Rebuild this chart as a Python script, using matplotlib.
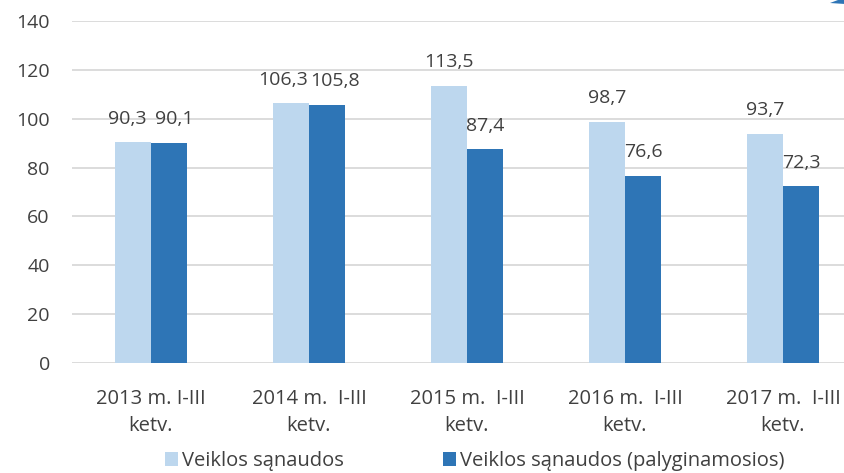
import matplotlib
matplotlib.use("Agg")
import matplotlib.pyplot as plt
import numpy as np
from matplotlib.patches import Polygon

categories = ["2013 m. I-III\nketv.", "2014 m.  I-III\nketv.", "2015 m.  I-III\nketv.",
              "2016 m.  I-III\nketv.", "2017 m.  I-III\nketv."]
series1_name = "Veiklos sąnaudos"
series2_name = "Veiklos sąnaudos (palyginamosios)"
series1 = [90.3, 106.3, 113.5, 98.7, 93.7]
series2 = [90.1, 105.8, 87.4, 76.6, 72.3]
yticks = [0, 20, 40, 60, 80, 100, 120, 140]

# horizontal nudges (in points) for labels that would collide
label_dx1 = [-4, -6, 0, 0, 0]
label_dx2 = [4, 6, 0, 0, 0]

plt.rcParams['font.family'] = ['Open Sans', 'DejaVu Sans']
txt = '#404040'
FS = 14

fig = plt.figure(figsize=(8.45, 4.73), dpi=100)
ax = fig.add_axes([72/845, 1 - 363/473, 790/845, (363-21)/473])

x = np.arange(len(categories))
w = 0.228
ax.bar(x - w/2, series1, w, color='#BDD7EE', label=series1_name, zorder=3)
ax.bar(x + w/2, series2, w, color='#2E75B6', label=series2_name, zorder=3)

def fmt(v):
    return f"{v:.1f}".replace('.', ',')

for i in range(len(x)):
    a, b = series1[i], series2[i]
    ax.annotate(fmt(a), (x[i] - w/2, a), xytext=(label_dx1[i], 17), textcoords='offset points',
                ha='center', va='center', fontsize=FS, color=txt, zorder=4)
    ax.annotate(fmt(b), (x[i] + w/2, b), xytext=(label_dx2[i], 17), textcoords='offset points',
                ha='center', va='center', fontsize=FS, color=txt, zorder=4)

ax.set_xlim(-0.5, len(x) - 0.5)
ax.set_ylim(0, 140)
ax.set_yticks(yticks)
ax.set_yticklabels([str(t) for t in yticks], fontsize=FS, color=txt)
ax.set_xticks(x)
ax.set_xticklabels(categories, fontsize=14.5, color=txt, linespacing=1.45)
ax.tick_params(axis='both', length=0)
ax.tick_params(axis='y', pad=16)
ax.tick_params(axis='x', pad=19)
ax.grid(axis='y', color='#D9D9D9', linewidth=1.3, zorder=0)
for s in ax.spines.values():
    s.set_visible(False)

leg = fig.legend(loc='center', bbox_to_anchor=(475/845, 1 - 461/473), ncol=2, frameon=False,
                 fontsize=14.5, handlelength=0.65, handleheight=0.65, handletextpad=0.2,
                 columnspacing=4.9, labelcolor=txt, borderpad=0, borderaxespad=0)

# decorative blue stroke in the top-right corner
deco = Polygon([(830/845, 1 - 3/473), (838/845, 1.0), (845/845, 1.0), (845/845, 1 - 4/473)],
               closed=True, transform=fig.transFigure, facecolor='#2E75B6', edgecolor='none')
fig.add_artist(deco)

fig.savefig("out.png", dpi=100)
